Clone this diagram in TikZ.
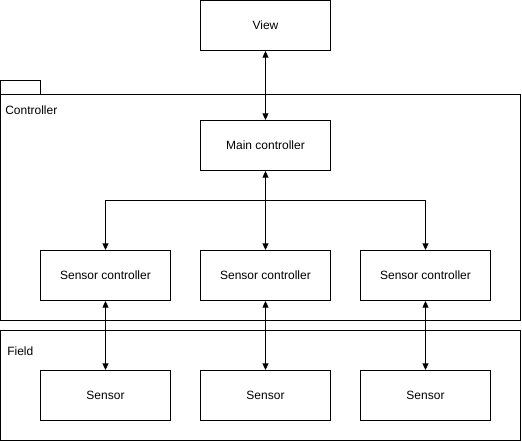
\documentclass[tikz,border=0pt]{standalone}
\usepackage{fontspec}
\setmainfont{Liberation Sans}
\usetikzlibrary{arrows.meta}
\begin{document}
\begin{tikzpicture}[x=0.75pt,y=-0.75pt,
  box/.style={draw,line width=0.75pt,minimum width=97.5pt,minimum height=37.5pt,inner sep=0pt,font=\fontsize{9}{11}\selectfont},
  frame/.style={draw,line width=0.75pt},
  lab/.style={anchor=west,inner sep=0pt,font=\fontsize{9}{11}\selectfont},
  link/.style={line width=0.75pt,{Triangle[length=5pt,width=4.5pt]}-{Triangle[length=5pt,width=4.5pt]}},
  onelink/.style={line width=0.75pt,-{Triangle[length=5pt,width=4.5pt]}}]
\useasboundingbox (0,0) rectangle (522,442);
% package frames
\draw[frame] (0.5,80.5) rectangle (40.5,94.5);
\draw[frame] (0.5,94.5) rectangle (520.5,320.5);
\node[lab] (ctl) at (5,110) {Controller};
\draw[frame] (0.5,330.5) rectangle (520.5,440.5);
\node[lab] (fld) at (7,351) {Field};
% boxes
\node[box] (view) at (265.5,25.5) {View};
\node[box] (main) at (265.5,145.5) {Main controller};
\node[box] (sc1) at (105.5,275.5) {Sensor controller};
\node[box] (sc2) at (265.5,275.5) {Sensor controller};
\node[box] (sc3) at (425.5,275.5) {Sensor controller};
\node[box] (s1) at (105.5,395.5) {Sensor};
\node[box] (s2) at (265.5,395.5) {Sensor};
\node[box] (s3) at (425.5,395.5) {Sensor};
% connectors
\draw[link] (view) -- (main);
\draw[link] (main) -- (sc2);
\coordinate (bl) at (105.5,200.5);
\coordinate (br) at (425.5,200.5);
\draw[onelink] (bl) -- (sc1.north);
\draw[onelink] (br) -- (sc3.north);
\draw[line width=0.75pt] (bl) -- (br);
\draw[link] (sc1) -- (s1);
\draw[link] (sc2) -- (s2);
\draw[link] (sc3) -- (s3);
\end{tikzpicture}
\end{document}
